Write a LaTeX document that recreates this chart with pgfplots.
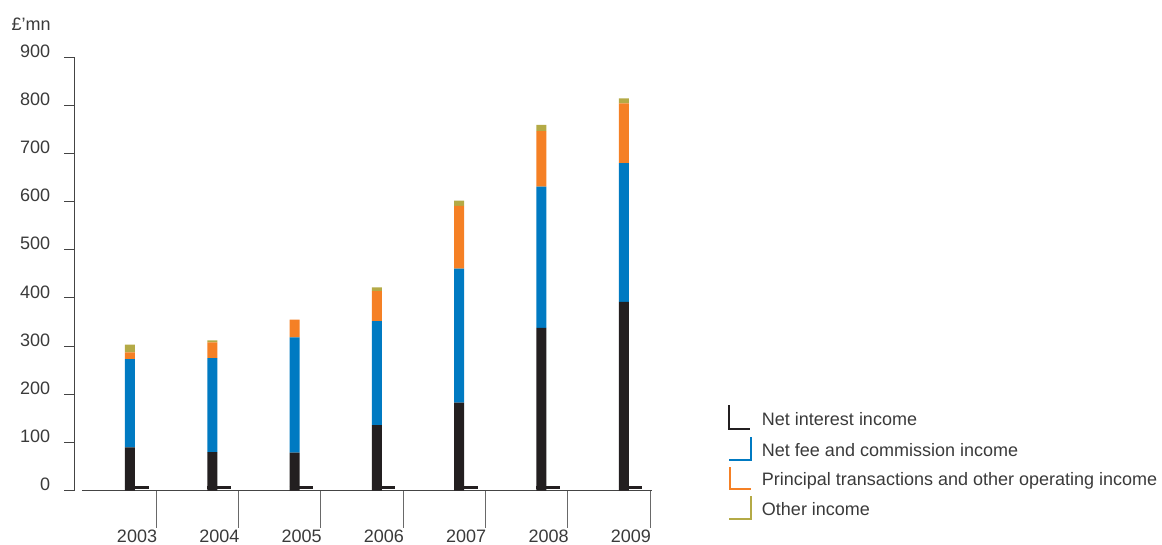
\documentclass[border=0pt]{standalone}
\usepackage{fontspec}
\setmainfont{Liberation Sans}
\usepackage{pgfplots}
\usepackage{pgfplotstable}
\pgfplotsset{compat=1.18}
\definecolor{cNII}{HTML}{231F20}
\definecolor{cFee}{HTML}{007AC2}
\definecolor{cPrin}{HTML}{F58025}
\definecolor{cOth}{HTML}{B4AA46}
\definecolor{txt}{HTML}{3A3A3A}
\definecolor{axgray}{HTML}{444444}
\pgfplotstableread{
x nii fee prin oth
0 90 183 14 16
1 80 195 33 4
2 79 239 37 0
3 136 216 62 8
4 183 278 130 11
5 338 293 115 13
6 392 288 124 10
}\incomedata
\newcommand\lbl{\fontsize{13.5}{16}\selectfont}
\begin{document}
\begin{tikzpicture}[x=0.75pt,y=-0.75pt]
\useasboundingbox (0,0) rectangle (1162,544);
\begin{axis}[
  at={(55.5pt,-368.025pt)}, anchor=south west,
  scale only axis, width=433.5pt, height=325.275pt,
  xmin=-0.680, xmax=6.343, ymin=0, ymax=900,
  clip=false,
  ybar stacked, bar width=7.5pt,
  axis y line*=left,
  axis x line*=bottom,
  x axis line style={draw=none},
  y axis line style={draw=axgray, line width=0.75pt},
  ytick={0,100,...,900},
  xtick={0.32,1.32,2.32,3.32,4.32,5.32,6.32},
  xticklabels={2003,2004,2005,2006,2007,2008,2009},
  tick align=outside,
  ytick style={draw=axgray, line width=0.75pt, /pgfplots/major tick length=7.5pt},
  xtick style={draw=axgray!80, line width=0.75pt, /pgfplots/major tick length=27.75pt},
  yticklabel style={anchor=east, inner sep=0pt, xshift=-13.5pt, yshift=4.5pt},
  xticklabel style={anchor=base east, inner sep=0pt, xshift=0.75pt, yshift=-34.5pt},
  every tick label/.append style={font=\lbl, text=txt},
  /pgf/number format/assume math mode=true,
]
\addplot[fill=cNII, draw=none] table[x=x, y=nii] {\incomedata};
\addplot[fill=cFee, draw=none] table[x=x, y=fee] {\incomedata};
\addplot[fill=cPrin, draw=none] table[x=x, y=prin] {\incomedata};
\addplot[fill=cOth, draw=none] table[x=x, y=oth] {\incomedata};
\draw[axgray, line width=0.75pt] (axis cs:-0.583,0) -- (axis cs:6.343,0);
\pgfplotsinvokeforeach{0,...,6}{
  \draw[cNII, line width=1.9pt] ([xshift=-3.75pt, yshift=2.4pt]axis cs:#1,0) -- ([xshift=13.9pt, yshift=2.4pt]axis cs:#1,0);
}
\end{axis}
\node[anchor=base east, inner sep=0pt, font=\lbl, text=txt] at (51,30) {£’mn};
% legend
\draw[cNII, line width=1.5pt] (728.5,405) -- (728.5,428.5) -- (750,428.5);
\draw[cFee, line width=1.5pt] (751,437) -- (751,459.5) -- (729,459.5);
\draw[cPrin, line width=1.5pt] (729.5,467) -- (729.5,489) -- (751,489);
\draw[cOth, line width=1.5pt] (751,496) -- (751,518.5) -- (729,518.5);
\node[anchor=base west, inner sep=0pt, font=\lbl, text=txt] at (761.7,425.7) {Net interest income};
\node[anchor=base west, inner sep=0pt, font=\lbl, text=txt] at (761.7,456.7) {Net fee and commission income};
\node[anchor=base west, inner sep=0pt, font=\lbl, text=txt] at (761.7,485.3) {Principal transactions and other operating income};
\node[anchor=base west, inner sep=0pt, font=\lbl, text=txt] at (761.7,515) {Other income};
\end{tikzpicture}
\end{document}
